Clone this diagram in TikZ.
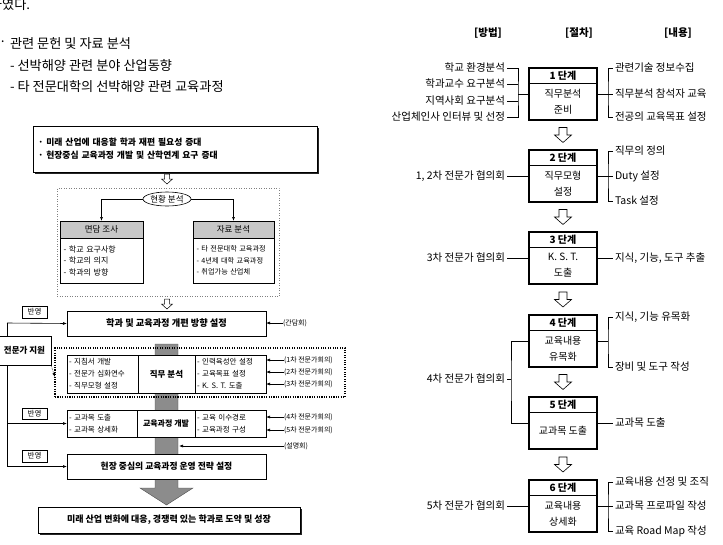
\documentclass[tikz,border=0pt]{standalone}
\usepackage{fontspec}
\setmainfont{Noto Sans CJK KR}
\usetikzlibrary{shapes.geometric,arrows.meta,shadows,fit}
\newcommand\myharrow[6]{% cx, cy, shaft half width, head half width, half length, line width
  \draw[fill=white, line width=#6] (#1-#3,#2-#5) -- (#1+#3,#2-#5) -- (#1+#3,#2) -- (#1+#4,#2) -- (#1,#2+#5) -- (#1-#4,#2) -- (#1-#3,#2) -- cycle;}
\begin{document}
\begin{tikzpicture}[x=1pt,y=-1pt,
  every node/.style={inner sep=0pt, outer sep=0pt},
  tip/.style={-{Latex[length=4pt,width=3pt]}},
  ptext/.style={anchor=west, font=\fontsize{13.2}{15}\selectfont},
  bx/.style={draw, line width=0.7pt, fill=white, anchor=north west},
  shd/.style={drop shadow={shadow xshift=2.2pt, shadow yshift=-2.2pt, fill=black, opacity=0.85}},
  btx/.style={font=\fontsize{9.2}{11}\selectfont\bfseries},
  ltx/.style={font=\fontsize{7.5}{12}\selectfont},
  cmt/.style={anchor=west, font=\fontsize{7}{8}\selectfont},
  refl/.style={draw, line width=0.5pt, fill=white, anchor=north west, minimum width=25pt, minimum height=12pt, font=\fontsize{7.5}{8}\selectfont},
  sh/.style={draw, line width=0.6pt, minimum width=68pt, minimum height=15pt, anchor=north, font=\fontsize{10}{11}\selectfont\bfseries},
  sb/.style={draw, line width=0.6pt, minimum width=68pt, minimum height=37pt, anchor=north, font=\fontsize{10}{16}\selectfont, align=center},
  sfr/.style={draw, line width=1.4pt, inner sep=0pt},
  rlE/.style={anchor=east, inner sep=2pt, font=\fontsize{10.5}{12}\selectfont},
  rlW/.style={anchor=west, inner sep=2pt, font=\fontsize{10.5}{12}\selectfont},
  hdr/.style={font=\fontsize{10.5}{12}\selectfont\bfseries},
  ln/.style={line width=0.6pt}
]
\useasboundingbox (0,0) rectangle (723,544);

% ---------- top-left text ----------
\node[ptext] (p0) at (-10,5) {하였다.};
\node[ptext] (p1b) at (-1,44) {·};
\node[ptext] (p1) at (10,44) {관련 문헌 및 자료 분석};
\node[ptext] (p2) at (10,66) {- 선박해양 관련 분야 산업동향};
\node[ptext] (p3) at (10,87) {- 타 전문대학의 선박해양 관련 교육과정};

% ---------- left diagram ----------
\node[bx, shd, minimum width=284pt, minimum height=46pt, text width=274pt, inner xsep=5pt, align=left,
      font=\fontsize{8.8}{13}\selectfont\bfseries] (topb) at (33,126)
      {· 미래 산업에 대응할 학과 재편 필요성 증대\\· 현장중심 교육과정 개발 및 산학연계 요구 증대};
\myharrow{167}{179}{2.5}{5.5}{5}{0.5pt}
\node[draw, gray, dotted, line width=0.5pt, anchor=north west, minimum width=222pt, minimum height=108pt] (fr1) at (57,188) {};
\node[draw, ellipse, fill=white, line width=0.6pt, minimum width=48pt, minimum height=14pt, font=\fontsize{8.5}{9}\selectfont] (ell) at (167,199) {현황 분석};
\node[bx, fill=black!22, minimum width=83pt, minimum height=17pt, font=\fontsize{8.5}{10}\selectfont] (hd1) at (60,221) {면담 조사};
\node[bx, minimum width=83pt, minimum height=45pt, text width=76pt, inner xsep=3.5pt, align=left, font=\fontsize{8}{11.5}\selectfont] (bd1) at (60,238)
      {- 학교 요구사항\\- 학교의 의지\\- 학과의 방향};
\node[bx, fill=black!22, minimum width=81pt, minimum height=17pt, font=\fontsize{8.5}{10}\selectfont] (hd2) at (193,221) {자료 분석};
\node[bx, minimum width=81pt, minimum height=45pt, text width=74pt, inner xsep=3.5pt, align=left, font=\fontsize{7.2}{11.5}\selectfont] (bd2) at (193,238)
      {- 타 전문대학 교육과정\\- 4년제 대학 교육과정\\- 취업가능 산업체};
\draw[tip, ln] (ell.west) -| (hd1.north);
\draw[tip, ln] (ell.east) -| (hd2.north);
\myharrow{167}{304}{2.5}{5.5}{5}{0.5pt}

% gray backbone bar with big arrow head
\path[fill=black!45, draw=black!70, line width=0.4pt] (155,344) -- (178,344) -- (178,488) -- (193,488) -- (166.5,505) -- (140,488) -- (155,488) -- cycle;

\node[bx, minimum width=199pt, minimum height=25pt, btx] (dir) at (67,311) {학과 및 교육과정 개편 방향 설정};

\node[draw, line width=1.1pt, dash pattern=on 1.1pt off 1.3pt, anchor=north west, minimum width=290pt, minimum height=49pt] (fr2) at (55,348) {};
\node[bx, minimum width=71pt, minimum height=38pt, text width=67pt, inner xsep=2pt, align=left, ltx] (l1) at (67,355)
      {- 지침서 개발\\- 전문가 심화연수\\- 직무모형 설정};
\node[bx, minimum width=57pt, minimum height=38pt, font=\fontsize{8.5}{10}\selectfont\bfseries] (m1) at (138,355) {직무 분석};
\node[bx, minimum width=71pt, minimum height=38pt, text width=67pt, inner xsep=2pt, align=left, ltx] (r1) at (195,355)
      {- 인력육성안 설정\\- 교육목표 설정\\- K. S. T. 도출};

\node[bx, minimum width=70pt, minimum height=27pt, text width=66pt, inner xsep=2pt, align=left, ltx] (l2) at (67,410)
      {- 교과목 도출\\- 교과목 상세화};
\node[bx, minimum width=58pt, minimum height=27pt, font=\fontsize{8}{10}\selectfont\bfseries] (m2) at (137,410) {교육과정 개발};
\node[bx, minimum width=71pt, minimum height=27pt, text width=67pt, inner xsep=2pt, align=left, ltx] (r2) at (195,410)
      {- 교육 이수경로\\- 교육과정 구성};

\node[bx, minimum width=199pt, minimum height=25pt, font=\fontsize{8.8}{11}\selectfont\bfseries] (hs) at (67,454) {현장 중심의 교육과정 운영 전략 설정};
\node[bx, shd, minimum width=262pt, minimum height=26pt, font=\fontsize{9}{11}\selectfont\bfseries] (fin) at (38,507) {미래 산업 변화에 대응, 경쟁력 있는 학과로 도약 및 성장};

% right-side comments
\node[cmt] (k0) at (283,323) {(간담회)};
\node[cmt] (k1) at (284,360) {(1차 전문가회의)};
\node[cmt] (k2) at (284,372) {(2차 전문가회의)};
\node[cmt] (k3) at (284,384) {(3차 전문가회의)};
\node[cmt] (k4) at (284,417) {(4차 전문가회의)};
\node[cmt] (k5) at (284,430) {(5차 전문가회의)};
\node[cmt] (k6) at (284,446) {(설명회)};
\coordinate (barR) at (179,446);
\draw[tip, ln] (k0.west) -- (k0.west -| dir.east);
\draw[tip, ln] (k1.west) -- (k1.west -| r1.east);
\draw[tip, ln] (k2.west) -- (k2.west -| r1.east);
\draw[tip, ln] (k3.west) -- (k3.west -| r1.east);
\draw[tip, ln] (k4.west) -- (k4.west -| r2.east);
\draw[tip, ln] (k5.west) -- (k5.west -| r2.east);
\draw[tip, ln] (k6.west) -- (barR);

% left feedback line
\coordinate (vt) at (7,323);
\coordinate (vm) at (7,423.5);
\coordinate (vb) at (7,466.5);
\draw[ln] (vt) -- (vb);
\draw[tip, ln] (vt) -- (dir.west);
\draw[tip, ln] (vm) -- (l2.west);
\draw[tip, ln] (vb) -- (hs.west);
\node[refl] (rf1) at (22,306) {반영};
\node[refl, minimum height=11pt] (rf2) at (22,408) {반영};
\node[refl] (rf3) at (22,450) {반영};
\node[draw, fill=white, line width=0.7pt, anchor=north west, minimum width=53pt, minimum height=29pt, font=\fontsize{8.5}{10}\selectfont\bfseries] (ex) at (-2,336) {전문가 지원};
\coordinate (dbp) at (55,377);
\draw[densely dotted, tip, ln] (ex.south east) -- (dbp);

% ---------- right diagram ----------
\node[hdr] (hA) at (488,33) {[방법]};
\node[hdr] (hB) at (579,33) {[절차]};
\node[hdr] (hC) at (678,33) {[내용]};

% steps
\node[sh] (h1) at (563,68) {1 단계};
\node[sb] (b1) at (h1.south) {직무분석\\준비};
\node[sfr, fit=(h1)(b1)] (s1) {};
\node[sh] (h2) at (563,150) {2 단계};
\node[sb] (b2) at (h2.south) {직무모형\\설정};
\node[sfr, fit=(h2)(b2)] (s2) {};
\node[sh] (h3) at (563,232) {3 단계};
\node[sb] (b3) at (h3.south) {K. S. T.\\도출};
\node[sfr, fit=(h3)(b3)] (s3) {};
\node[sh] (h4) at (563,315) {4 단계};
\node[sb] (b4) at (h4.south) {교육내용\\유목화};
\node[sfr, fit=(h4)(b4)] (s4) {};
\node[sh] (h5) at (563,397) {5 단계};
\node[sb] (b5) at (h5.south) {교과목 도출};
\node[sfr, fit=(h5)(b5)] (s5) {};
\node[sh] (h6) at (563,480) {6 단계};
\node[sb] (b6) at (h6.south) {교육내용\\상세화};
\node[sfr, fit=(h6)(b6)] (s6) {};

\myharrow{563}{135}{4}{8.5}{7.5}{0.6pt}
\myharrow{563}{217}{4}{8.5}{7.5}{0.6pt}
\myharrow{563}{299.5}{4}{8.5}{7.5}{0.6pt}
\myharrow{563}{382}{4}{8.5}{7.5}{0.6pt}
\myharrow{563}{464.5}{4}{8.5}{7.5}{0.6pt}

% step 1 labels
\node[rlE] (m1a) at (507,68) {학교 환경분석};
\node[rlE] (m1b) at (507,84) {학과교수 요구분석};
\node[rlE] (m1c) at (507,101) {지역사회 요구분석};
\node[rlE] (m1d) at (507,117) {산업체인사 인터뷰 및 선정};
\coordinate (jl1) at (518,94);
\draw[ln] (m1a.east) -| (jl1) |- (m1d.east);
\draw[ln] (m1b.east) -- (m1b.east -| jl1);
\draw[ln] (m1c.east) -- (m1c.east -| jl1);
\draw[ln] (jl1) -- (s1.west);
\node[rlW] (c1a) at (613,68) {관련기술 정보수집};
\node[rlW] (c1b) at (613,94) {직무분석 참석자 교육};
\node[rlW] (c1c) at (613,117) {전공의 교육목표 설정};
\coordinate (jr1) at (608,94);
\draw[ln] (c1a.west) -| (jr1) |- (c1c.west);
\draw[ln] (s1.east) -- (c1b.west);

% step 2 labels
\node[rlE] (l2x) at (507,176) {1, 2차 전문가 협의회};
\draw[ln] (l2x.east) -- (s2.west);
\node[rlW] (c2a) at (613,151) {직무의 정의};
\node[rlW] (c2b) at (613,176) {Duty 설정};
\node[rlW] (c2c) at (613,201) {Task 설정};
\coordinate (jr2) at (608,176);
\draw[ln] (c2a.west) -| (jr2) |- (c2c.west);
\draw[ln] (s2.east) -- (c2b.west);

% step 3 labels
\node[rlE] (l3x) at (507,258) {3차 전문가 협의회};
\draw[ln] (l3x.east) -- (s3.west);
\node[rlW] (c3) at (613,258) {지식, 기능, 도구 추출};
\draw[ln] (s3.east) -- (c3.west);

% step 4/5 labels
\node[rlW] (c4a) at (613,317) {지식, 기능 유목화};
\node[rlW] (c4b) at (613,367) {장비 및 도구 작성};
\coordinate (jr4) at (608,341);
\draw[ln] (c4a.west) -| (jr4) |- (c4b.west);
\draw[ln] (s4.east) -- (jr4);
\node[rlE] (l4x) at (507,379) {4차 전문가 협의회};
\coordinate (jl4) at (511,379);
\draw[ln] (s4.west) -| (jl4) |- (s5.west);
\draw[ln] (l4x.east) -- (jl4);
\node[rlW] (c5) at (613,423) {교과목 도출};
\draw[ln] (s5.east) -- (c5.west);

% step 6 labels
\node[rlE] (l6x) at (507,506) {5차 전문가 협의회};
\draw[ln] (l6x.east) -- (s6.west);
\node[rlW] (c6a) at (613,482) {교육내용 선정 및 조직};
\node[rlW] (c6b) at (613,506) {교과목 프로파일 작성};
\node[rlW] (c6c) at (613,531) {교육 Road Map 작성};
\coordinate (jr6) at (608,506);
\draw[ln] (c6a.west) -| (jr6) |- (c6c.west);
\draw[ln] (s6.east) -- (c6b.west);
\end{tikzpicture}
\end{document}
